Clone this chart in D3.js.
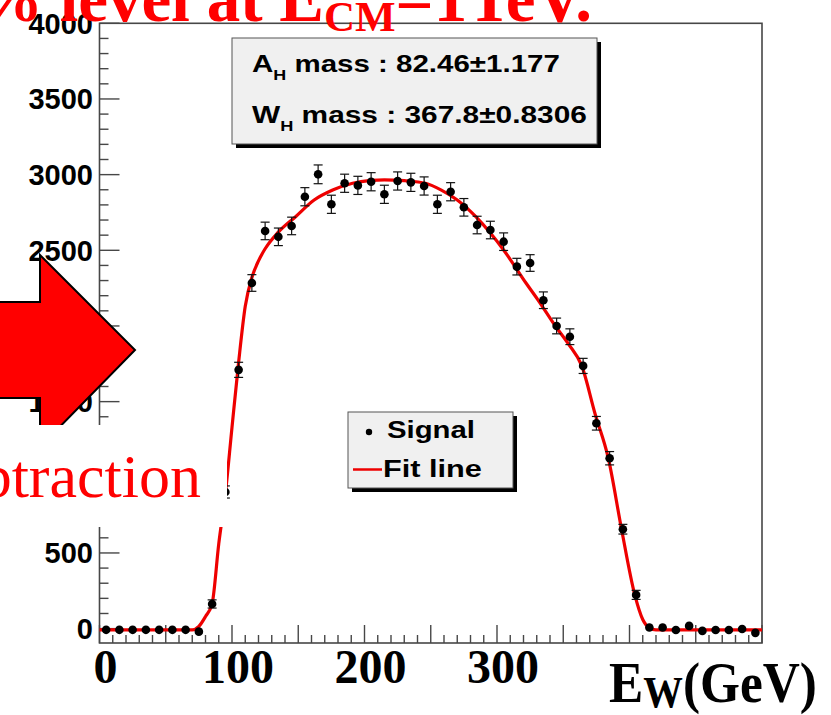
<!DOCTYPE html>
<html>
<head>
<meta charset="utf-8">
<script src="https://cdn.jsdelivr.net/npm/d3@7"></script>
<style>
  body { margin: 0; background: #fff; }
  svg { display: block; }
</style>
</head>
<body>
<script>
// histogram bins (GeV) and background-subtracted signal
const binCenters = [5, 15, 25, 35, 45, 55, 65, 75, 85, 95, 105, 115, 125, 135, 145, 155, 165, 175, 185, 195,
  205, 215, 225, 235, 245, 255, 265, 275, 285, 295, 305, 315, 325, 335, 345, 355, 365, 375, 385, 395,
  405, 415, 425, 435, 445, 455, 465, 475, 485, 495];
const signalCounts = [-8, -8, -8, -8, -8, -8, -8, -20, 163, 903, 1710, 2284, 2628, 2589, 2661, 2854, 3002, 2804, 2943, 2929,
  2953, 2870, 2958, 2949, 2925, 2804, 2887, 2784, 2667, 2634, 2557, 2392, 2416, 2170, 2000, 1929, 1736, 1357, 1126, 657,
  223, 7, 7, -9, 18, -15, -9, -9, -2, -28];
const signalErrors = [14, 14, 14, 14, 14, 14, 14, 14, 27, 40, 50, 55, 58, 58, 58, 60, 62, 60, 60, 60,
  60, 60, 60, 60, 60, 60, 60, 58, 58, 58, 58, 55, 55, 55, 52, 52, 50, 45, 44, 32,
  30, 14, 14, 14, 14, 14, 14, 14, 14, 14];

// fit curve
const fitEnergy = [0, 70, 75, 80, 85, 90, 95, 100, 105, 110, 115, 120, 125, 135, 148, 162, 176, 191, 205, 215,
  230, 246, 258, 270, 284, 295, 305, 322, 331, 344, 354, 364, 374, 384, 394, 404, 410, 415, 420, 500];
const fitValues = [-8, -8, 15, 80, 165, 560, 890, 1330, 1760, 2130, 2320, 2430, 2510, 2620, 2722, 2832, 2898, 2943, 2962, 2966,
  2960, 2943, 2898, 2832, 2722, 2614, 2502, 2282, 2171, 2000, 1880, 1736, 1420, 1126, 657, 223, 60, 5, -8, -8];

const yTickValues = [0, 500, 1000, 1500, 2000, 2500, 3000, 3500, 4000];
const xTickLabels = ['0', '100', '200', '300'];
const xTickValues = [0, 100, 200, 300];
const statsLines = [['A', 'H', ' mass : 82.46\u00b11.177'], ['W', 'H', ' mass : 367.8\u00b10.8306']];

const svg = d3.select('body').append('svg')
  .attr('width', 831)
  .attr('height', 715);

svg.append('rect').attr('width', 831).attr('height', 715).attr('fill', '#fff');

const frameLeft = 99.5, frameRight = 762, frameTop = 23.3, frameBottom = 643;
const x = d3.scaleLinear().domain([0, 500]).range([frameLeft, frameRight]);
const y = d3.scaleLinear().domain([-95, 4000]).range([frameBottom, frameTop]);

const axisColor = '#474747';

// stretch a text group horizontally so it fills a given width
function fitWidth(g, px, py, width) {
  const w = g.node().getBBox().width;
  g.attr('transform', `translate(${px},${py}) scale(${width / w},1)`);
}

// frame
svg.append('rect')
  .attr('x', frameLeft).attr('y', frameTop)
  .attr('width', frameRight - frameLeft).attr('height', frameBottom - frameTop)
  .attr('fill', 'none').attr('stroke', axisColor).attr('stroke-width', 1.6);

// y ticks (inward)
const yMinor = d3.range(0, 4001, 100);
svg.append('g').selectAll('line').data(yMinor).join('line')
  .attr('x1', frameLeft).attr('x2', d => frameLeft + (d % 500 === 0 ? 20 : 9))
  .attr('y1', d => y(d)).attr('y2', d => y(d))
  .attr('stroke', axisColor).attr('stroke-width', 1.4);

svg.append('g').selectAll('text').data(yTickValues).join('text')
  .attr('x', 93).attr('y', d => y(d)).attr('dy', '0.36em')
  .attr('text-anchor', 'end')
  .style('font-family', 'Liberation Sans, Arial, sans-serif')
  .style('font-weight', 'bold').style('font-size', '29px')
  .text(d => d);

// x ticks (inward)
const xMinor = d3.range(0, 501, 10);
svg.append('g').selectAll('line').data(xMinor).join('line')
  .attr('x1', d => x(d)).attr('x2', d => x(d))
  .attr('y1', frameBottom).attr('y2', d => frameBottom - (d % 50 === 0 ? 18 : 8))
  .attr('stroke', axisColor).attr('stroke-width', 1.4);

// fit line
const fitData = fitEnergy.map((e, i) => [e, fitValues[i]]);
svg.append('path')
  .datum(fitData)
  .attr('fill', 'none')
  .attr('stroke', '#ee0000')
  .attr('stroke-width', 3.2)
  .attr('d', d3.line().x(d => x(d[0])).y(d => y(d[1])).curve(d3.curveMonotoneX));

// data points with error bars
const points = binCenters.map((e, i) => ({ e: e, v: signalCounts[i], err: signalErrors[i] }));
const pg = svg.append('g');
pg.selectAll('line.bar').data(points).join('line').attr('class', 'bar')
  .attr('x1', d => x(d.e)).attr('x2', d => x(d.e))
  .attr('y1', d => y(d.v - d.err)).attr('y2', d => y(d.v + d.err))
  .attr('stroke', '#111').attr('stroke-width', 1.2);
pg.selectAll('line.capt').data(points.filter(d => d.err > 20)).join('line').attr('class', 'capt')
  .attr('x1', d => x(d.e) - 4.5).attr('x2', d => x(d.e) + 4.5)
  .attr('y1', d => y(d.v + d.err)).attr('y2', d => y(d.v + d.err))
  .attr('stroke', '#111').attr('stroke-width', 1.2);
pg.selectAll('line.capb').data(points.filter(d => d.err > 20)).join('line').attr('class', 'capb')
  .attr('x1', d => x(d.e) - 4.5).attr('x2', d => x(d.e) + 4.5)
  .attr('y1', d => y(d.v - d.err)).attr('y2', d => y(d.v - d.err))
  .attr('stroke', '#111').attr('stroke-width', 1.2);
pg.selectAll('circle').data(points).join('circle')
  .attr('cx', d => x(d.e)).attr('cy', d => y(d.v))
  .attr('r', 4.3).attr('fill', '#000');

// stats box
svg.append('rect').attr('x', 236).attr('y', 42).attr('width', 365).attr('height', 106).attr('fill', '#000');
svg.append('rect').attr('x', 232).attr('y', 38).attr('width', 365).attr('height', 106)
  .attr('fill', '#f0f0f0').attr('stroke', '#555').attr('stroke-width', 1);

const statsWidths = [308, 335];
const statsBase = [71.7, 123.3];
statsLines.forEach((parts, i) => {
  const g = svg.append('g');
  const t = g.append('text')
    .style('font-family', 'Liberation Sans, Arial, sans-serif')
    .style('font-weight', 'bold').style('font-size', '23px');
  t.append('tspan').text(parts[0]);
  t.append('tspan').attr('dy', 8).style('font-size', '14px').text(parts[1]);
  t.append('tspan').attr('dy', -8).text(parts[2]);
  fitWidth(g, 252, statsBase[i], statsWidths[i]);
});

// legend
svg.append('rect').attr('x', 352).attr('y', 416).attr('width', 165).attr('height', 76).attr('fill', '#000');
svg.append('rect').attr('x', 348).attr('y', 412).attr('width', 165).attr('height', 76)
  .attr('fill', '#f0f0f0').attr('stroke', '#555').attr('stroke-width', 1);
svg.append('circle').attr('cx', 369).attr('cy', 432).attr('r', 3.2).attr('fill', '#000');
svg.append('line').attr('x1', 353).attr('x2', 382).attr('y1', 469.5).attr('y2', 469.5)
  .attr('stroke', '#ee0000').attr('stroke-width', 2.5);
const lg1 = svg.append('g');
lg1.append('text').style('font-family', 'Liberation Sans, Arial, sans-serif')
  .style('font-weight', 'bold').style('font-size', '24px').text('Signal');
fitWidth(lg1, 387, 438, 88);
const lg2 = svg.append('g');
lg2.append('text').style('font-family', 'Liberation Sans, Arial, sans-serif')
  .style('font-weight', 'bold').style('font-size', '24px').text('Fit line');
fitWidth(lg2, 383, 477, 99);

// slide overlay: x labels in Times
svg.append('g').selectAll('text').data(xTickValues).join('text')
  .attr('x', d => x(d) + 6).attr('y', 683)
  .attr('text-anchor', 'middle')
  .style('font-family', 'Liberation Serif, Times New Roman, serif')
  .style('font-weight', 'bold').style('font-size', '48px')
  .text((d, i) => xTickLabels[i]);

const xl = svg.append('g');
const xt = xl.append('text')
  .style('font-family', 'Liberation Serif, Times New Roman, serif')
  .style('font-weight', 'bold').style('font-size', '57px');
xt.append('tspan').text('E');
xt.append('tspan').attr('dy', 5).style('font-size', '44px').text('W');
xt.append('tspan').attr('dy', -5).text('(GeV)');
fitWidth(xl, 609, 702, 208);

// slide overlay: title fragment at the top
const tg = svg.append('g');
const tt = tg.append('text')
  .style('font-family', 'Liberation Serif, Times New Roman, serif')
  .style('font-weight', 'bold').style('font-size', '67px')
  .attr('fill', '#ff0000');
tt.append('tspan').text('% level at E');
tt.append('tspan').attr('dy', 10).style('font-size', '43px').text('CM');
tt.append('tspan').attr('dy', -10).text('=1TeV.');
tg.attr('transform', 'translate(-24,21)');

// slide overlay: arrow
svg.append('polygon')
  .attr('points', [[-5, 302], [40, 302], [40, 255], [135, 350], [40, 447], [40, 398], [-5, 398]].join(' '))
  .attr('fill', '#ff0000').attr('stroke', '#000').attr('stroke-width', 2);

// slide overlay: text box
svg.append('rect').attr('x', -1).attr('y', 425).attr('width', 228).attr('height', 102).attr('fill', '#fff');
svg.append('text')
  .attr('x', 201).attr('y', 497).attr('text-anchor', 'end')
  .style('font-family', 'Liberation Serif, Times New Roman, serif')
  .style('font-size', '62px').attr('fill', '#ff0000')
  .text('btraction');
</script>
</body>
</html>
